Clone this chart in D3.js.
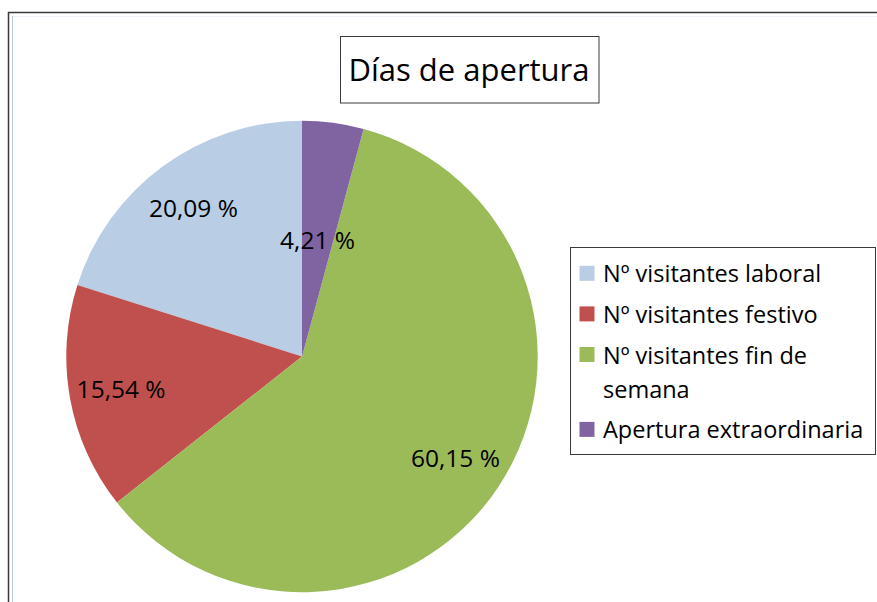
<!DOCTYPE html>
<html><head><meta charset="utf-8">
<script src="https://cdn.jsdelivr.net/npm/d3@7"></script>
<style>body{margin:0;background:#fff;} svg{display:block;} text{font-variant-ligatures:none;}</style>
</head><body>
<svg id="c" width="877" height="602"></svg>
<script>
// ---- data ----
const chartTitle = "Días de apertura";
const categories = ["Nº visitantes laboral", "Nº visitantes festivo", "Nº visitantes fin de semana", "Apertura extraordinaria"];
const values = [20.09, 15.54, 60.15, 4.21];
const valueLabels = ["20,09 %", "15,54 %", "60,15 %", "4,21 %"];
const legendLines = [["Nº visitantes laboral"], ["Nº visitantes festivo"], ["Nº visitantes fin de", "semana"], ["Apertura extraordinaria"]];

// ---- styles / layout ----
const colors = ["#B9CDE5", "#C0504D", "#9BBB59", "#8064A2"];
const FONT = "'Open Sans', sans-serif";
const W = 877, H = 602;
const cx = 302, cy = 356.5, R = 235.7;

const svg = d3.select("#c");
svg.append("rect").attr("width", W).attr("height", H).attr("fill", "#fff");

// chart frame
svg.append("rect").attr("x", 8.5).attr("y", 12.5).attr("width", 1000).attr("height", 1000)
  .attr("fill", "none").attr("stroke", "#3a3a3a").attr("stroke-width", 1.5);
svg.append("line").attr("x1", 12.5).attr("x2", 12.5).attr("y1", 16).attr("y2", H)
  .attr("stroke", "#b8cce4").attr("stroke-width", 1);
svg.append("line").attr("x1", 13).attr("x2", W).attr("y1", 16.5).attr("y2", 16.5)
  .attr("stroke", "#eef3fa").attr("stroke-width", 1);

// title
const tg = svg.append("g");
tg.append("rect").attr("x", 340.5).attr("y", 36.5).attr("width", 258.5).attr("height", 66.5)
  .attr("fill", "#fff").attr("stroke", "#3a3a3a").attr("stroke-width", 1);
tg.append("text").attr("x", 469).attr("y", 81).attr("text-anchor", "middle")
  .attr("font-family", FONT).attr("font-size", 31).attr("fill", "#000")
  .text(chartTitle);

// pie (counter-clockwise from 12 o'clock)
const pie = d3.pie().sort(null).value(d => d).startAngle(0).endAngle(-2 * Math.PI);
const arcs = pie(values);
const arc = d3.arc().innerRadius(0).outerRadius(R);
const pg = svg.append("g").attr("transform", `translate(${cx},${cy})`);
pg.selectAll("path").data(arcs).join("path")
  .attr("d", arc).attr("fill", (d, i) => colors[i]);

const total = d3.sum(values);
pg.selectAll("text").data(arcs).join("text")
  .attr("transform", d => {
    const share = d.value / total;
    const r = share < 0.1 ? 0.5 * R : 0.78 * R;
    const a = (d.startAngle + d.endAngle) / 2;
    return `translate(${r * Math.sin(a)},${-r * Math.cos(a)})`;
  })
  .attr("text-anchor", "middle").attr("dy", "0.36em")
  .attr("font-family", FONT).attr("font-size", 24.5).attr("fill", "#000")
  .text((d, i) => valueLabels[i]);

// legend
const lg = svg.append("g");
lg.append("rect").attr("x", 570.5).attr("y", 247.5).attr("width", 305).attr("height", 207)
  .attr("fill", "#fff").attr("stroke", "#3a3a3a").attr("stroke-width", 1);
let base = 282.3;
categories.forEach((c, i) => {
  lg.append("rect").attr("x", 579.5).attr("y", base - 16.5).attr("width", 15).attr("height", 15)
    .attr("fill", colors[i]);
  legendLines[i].forEach((ln, j) => {
    lg.append("text").attr("x", 603).attr("y", base + j * 34.3)
      .attr("font-family", FONT).attr("font-size", 23.5).attr("fill", "#000").text(ln);
  });
  base += (legendLines[i].length - 1) * 34.3 + 40.6;
});
</script>
</body></html>
